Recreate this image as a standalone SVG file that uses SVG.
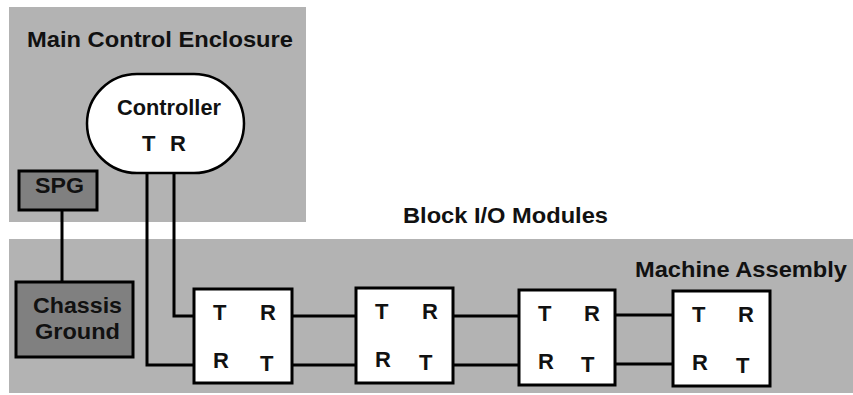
<svg xmlns="http://www.w3.org/2000/svg" width="853" height="395" viewBox="0 0 853 395">
<style>
.t{font-family:"Liberation Sans",Arial,sans-serif;font-weight:bold;font-size:22px;fill:#111}
.area{fill:#b3b3b3}
.dark{fill:#808080;stroke:#000;stroke-width:3}
.mod{fill:#fff;stroke:#000;stroke-width:3}
.wire{fill:none;stroke:#000;stroke-width:3}
</style>
<rect class="area" x="9" y="7" width="297" height="215"/>
<rect class="area" x="9" y="239" width="844" height="154"/>
<text class="t" x="27" y="47" textLength="266" lengthAdjust="spacingAndGlyphs">Main Control Enclosure</text>
<text class="t" x="403" y="223" textLength="205" lengthAdjust="spacingAndGlyphs">Block I/O Modules</text>
<text class="t" x="635" y="277" textLength="212" lengthAdjust="spacingAndGlyphs">Machine Assembly</text>
<g id="connectors">
<path class="wire" d="M147,173 V365 H194"/>
<path class="wire" d="M174,173 V316 H194"/>
<path class="wire" d="M292,316 H356 M292,365 H356"/>
<path class="wire" d="M453,316 H519 M453,365 H519"/>
<path class="wire" d="M615,315 H673 M615,364 H673"/>
<path class="wire" d="M62,210 V282"/>
</g>
<g id="controller">
<rect x="87" y="74" width="157" height="99" rx="50" ry="49.5" fill="#fff" stroke="#000" stroke-width="2.5"/>
<text class="t" x="117" y="115" textLength="104" lengthAdjust="spacingAndGlyphs">Controller</text>
<text class="t" x="142" y="151">T</text>
<text class="t" x="170" y="151">R</text>
</g>
<g id="spg">
<rect class="dark" x="19" y="171" width="78" height="39"/>
<text class="t" x="35" y="193" textLength="49" lengthAdjust="spacingAndGlyphs">SPG</text>
</g>
<g id="chassis-ground">
<rect class="dark" x="16" y="282" width="117" height="75"/>
<text class="t" x="33" y="313" textLength="89" lengthAdjust="spacingAndGlyphs">Chassis</text>
<text class="t" x="35" y="339" textLength="85" lengthAdjust="spacingAndGlyphs">Ground</text>
</g>
<g id="module1">
<rect class="mod" x="194" y="289" width="98" height="94"/>
<text class="t" x="213" y="320">T</text><text class="t" x="260" y="320">R</text>
<text class="t" x="213" y="368">R</text><text class="t" x="260" y="371">T</text>
</g>
<g id="module2">
<rect class="mod" x="356" y="288" width="97" height="95"/>
<text class="t" x="375" y="319">T</text><text class="t" x="422" y="319">R</text>
<text class="t" x="375" y="367">R</text><text class="t" x="419" y="370">T</text>
</g>
<g id="module3">
<rect class="mod" x="519" y="290" width="96" height="95"/>
<text class="t" x="538" y="321">T</text><text class="t" x="584" y="321">R</text>
<text class="t" x="538" y="369">R</text><text class="t" x="581" y="372">T</text>
</g>
<g id="module4">
<rect class="mod" x="673" y="291" width="97" height="95"/>
<text class="t" x="692" y="322">T</text><text class="t" x="738" y="322">R</text>
<text class="t" x="692" y="370">R</text><text class="t" x="736" y="373">T</text>
</g>
</svg>
